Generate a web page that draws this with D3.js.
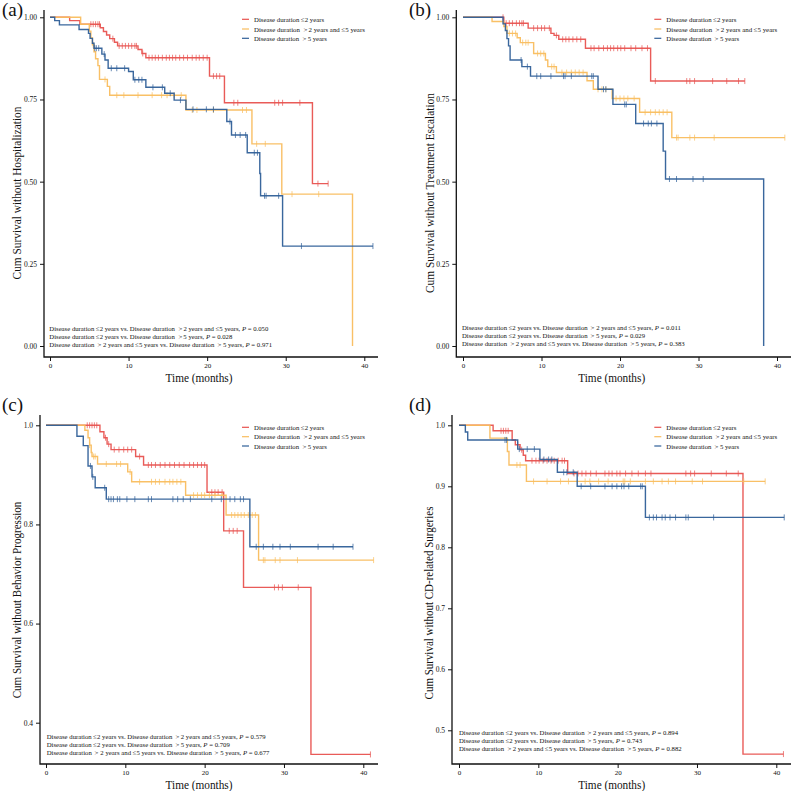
<!DOCTYPE html>
<html><head><meta charset="utf-8">
<script src="https://cdn.jsdelivr.net/npm/d3@7"></script>
<style>
body{margin:0;background:#fff}
svg{display:block}
text{font-family:"Liberation Serif","Times New Roman",serif;fill:#111}
</style>
</head><body>
<svg id="chart" width="794" height="791"></svg>
<script>
// ---------------- DATA ----------------
const seriesNames = ["Disease duration \u22642 years", "Disease duration \uFF1E2 years and \u22645 years", "Disease duration \uFF1E5 years"];
const comparisons = [
  "Disease duration \u22642 years vs. Disease duration \uFF1E2 years and \u22645 years",
  "Disease duration \u22642 years vs. Disease duration \uFF1E5 years",
  "Disease duration \uFF1E2 years and \u22645 years vs. Disease duration \uFF1E5 years"
];
const panelLetters = ["(a)", "(b)", "(c)", "(d)"];
const yTitles = ["Cum Survival without Hospitalization", "Cum Survival without Treatment Escalation",
                 "Cum Survival without Behavior Progression", "Cum Survival without CD-related Surgeries"];
const xTitle = "Time (months)";
const xTicks = [0, 10, 20, 30, 40];
const yTicksA = [0, 0.25, 0.5, 0.75, 1.0];
const yTicksB = [0, 0.25, 0.5, 0.75, 1.0];
const yTicksC = [0.4, 0.6, 0.8, 1.0];
const yTicksD = [0.5, 0.6, 0.7, 0.8, 0.9, 1.0];
const pValuesA = ["0.050", "0.028", "0.971"];
const pValuesB = ["0.011", "0.029", "0.383"];
const pValuesC = ["0.579", "0.709", "0.677"];
const pValuesD = ["0.894", "0.743", "0.882"];

// Panel (a) Hospitalization: steps [time, survival], censor times, end time
const aRedSteps = [[2.5,0.99],[3.8,0.979],[6.4,0.968],[6.8,0.957],[7.2,0.946],[7.6,0.935],[8.2,0.924],[8.6,0.913],[11.2,0.902],[11.7,0.89],[12.2,0.877],[20.3,0.821],[22.2,0.740],[33.4,0.494]];
const aRedCensor = [5.2,5.5,5.8,6.1,6.3,8.0,8.8,9.2,9.6,10.0,10.4,10.8,11.0,11.8,12.6,13.0,13.4,13.8,14.3,14.8,15.2,15.6,16.0,16.5,17.0,17.5,18.1,18.6,19.0,19.5,20.0,20.8,21.2,21.6,23.4,23.9,28.6,29.1,29.6,31.8,34.1,35.4];
const aRedEnd = 35.4;
const aOrgSteps = [[3.9,0.979],[5.0,0.958],[5.2,0.937],[5.4,0.916],[5.6,0.895],[5.8,0.874],[6.1,0.853],[6.3,0.811],[7.3,0.79],[7.6,0.763],[17.3,0.718],[25.7,0.615],[29.5,0.462],[38.5,0]];
const aOrgCensor = [5.5,7.0,8.5,9.4,11.2,13.0,14.2,14.9,15.8,16.7,18.1,18.7,20.8,24.5,25.0,26.3,27.4,30.8,34.2];
const aOrgEnd = 38.5;
const aBluSteps = [[0.6,0.99],[1.2,0.977],[3.7,0.963],[4.9,0.951],[5.1,0.936],[5.4,0.921],[5.6,0.906],[6.6,0.888],[7.0,0.870],[7.4,0.845],[10.0,0.835],[10.6,0.81],[12.2,0.787],[14.6,0.769],[15.8,0.748],[17.3,0.72],[22.5,0.683],[23.1,0.642],[25.1,0.588],[26.7,0.525],[26.8,0.457],[29.6,0.304]];
const aBluCensor = [5.7,5.9,6.2,6.9,7.8,8.5,9.5,10.8,11.3,11.7,13.1,14.3,15.3,16.6,18.2,19.9,20.8,22.9,23.6,24.2,24.9,26.0,26.4,27.3,27.5,29.1,32.0,41.1];
const aBluEnd = 41.1;

// Panel (b) Treatment escalation
const bRedSteps = [[5.2,0.982],[8.3,0.967],[11.2,0.951],[11.6,0.945],[12.2,0.933],[15.6,0.906],[23.9,0.806]];
const bRedCensor = [5.1,5.5,5.9,6.3,6.8,7.2,7.5,7.7,9.0,9.5,10.0,10.4,11.0,11.9,12.7,13.1,13.5,14.0,14.5,15.0,16.3,16.7,17.3,17.9,18.4,18.8,19.2,19.7,20.1,20.6,21.4,22.0,22.8,23.5,24.5,28.5,28.9,29.5,31.8,33.6,35.1,35.9];
const bRedEnd = 35.9;
const bOrgSteps = [[3.7,0.987],[5.2,0.972],[5.6,0.951],[6.9,0.938],[7.3,0.923],[9.0,0.89],[10.5,0.87],[10.8,0.85],[11.9,0.832],[15.8,0.807],[16.6,0.781],[19.0,0.753],[22.5,0.711],[26.6,0.634]];
const bOrgCensor = [5.9,6.3,6.7,7.6,8.0,8.3,9.5,9.9,10.3,11.3,11.6,12.6,13.2,13.8,14.3,14.8,15.3,17.2,17.7,18.2,19.5,20.0,20.5,21.0,21.8,23.2,23.9,24.5,25.0,25.5,26.0,27.2,27.4,28.9,29.5,32.0,41.0];
const bOrgEnd = 41.0;
const bBluSteps = [[5.1,0.98],[5.4,0.96],[5.6,0.935],[5.8,0.913],[6.0,0.87],[7.5,0.85],[8.6,0.821],[17.2,0.781],[19.1,0.735],[22.0,0.677],[25.5,0.593],[25.8,0.508],[38.3,0]];
const bBluCensor = [7.4,8.2,9.4,9.9,11.2,12.8,13.0,13.8,16.4,16.6,17.9,18.2,20.6,20.8,23.0,23.6,24.0,24.7,26.3,27.2,29.3,30.6];
const bBluEnd = 38.3;

// Panel (c) Behavior progression
const cRedSteps = [[6.8,0.987],[7.3,0.975],[7.7,0.962],[8.2,0.951],[11.3,0.937],[12.3,0.92],[20.3,0.865],[22.4,0.787],[24.9,0.673],[33.4,0.336]];
const cRedCensor = [5.2,5.5,5.8,6.1,6.4,7.5,7.9,8.6,9.2,9.8,10.3,10.8,11.8,12.9,13.3,13.8,14.4,15.0,15.6,16.2,16.8,17.4,18.1,18.6,19.1,19.6,20.0,20.9,21.3,21.7,22.2,23.1,23.6,24.1,28.8,29.3,29.8,31.8,40.9];
const cRedEnd = 40.9;
const cOrgSteps = [[4.9,0.99],[5.3,0.975],[5.5,0.96],[5.7,0.945],[5.8,0.937],[6.5,0.922],[10.3,0.906],[10.8,0.886],[17.6,0.859],[22.7,0.819],[26.8,0.728]];
const cOrgCensor = [5.5,6.0,6.2,7.6,8.9,9.4,10.6,11.8,13.3,13.8,14.3,15.0,15.6,16.0,16.5,17.0,18.6,19.1,19.6,20.0,20.6,21.3,22.2,23.4,23.8,24.2,24.6,25.0,25.5,26.0,26.4,27.4,27.6,28.9,29.5,31.7,41.3];
const cOrgEnd = 41.3;
const cBluSteps = [[3.9,0.978],[4.7,0.959],[5.3,0.918],[5.8,0.896],[6.2,0.874],[7.6,0.851],[25.7,0.755]];
const cBluCensor = [5.6,5.9,7.4,7.9,8.2,8.5,9.0,9.3,10.2,11.2,12.9,13.3,16.0,16.6,17.3,18.2,20.9,22.1,23.2,23.8,24.5,24.9,26.5,27.4,28.6,29.5,30.8,34.3,36.2,38.7];
const cBluEnd = 38.7;

// Panel (d) CD-related surgeries
const dRedSteps = [[4.3,0.991],[6.7,0.976],[7.1,0.968],[7.7,0.96],[8.1,0.951],[8.4,0.942],[13.7,0.921],[35.8,0.461]];
const dRedCensor = [5.3,5.6,5.9,6.2,7.4,7.9,9.2,9.7,10.1,10.6,11.1,11.6,12.0,12.5,13.0,13.3,14.5,15.0,15.5,16.0,16.6,17.3,18.4,18.9,19.3,19.9,20.3,21.0,21.8,22.6,23.5,24.2,28.6,29.2,29.7,31.8,33.7,35.2,40.9];
const dRedEnd = 40.9;
const dOrgSteps = [[3.9,0.979],[6.1,0.957],[6.3,0.935],[8.5,0.908]];
const dOrgCensor = [7.3,7.7,9.4,11.1,12.8,13.8,15.9,16.5,17.6,18.8,20.7,20.9,21.6,23.5,24.5,25.6,26.4,27.3,29.4,30.7,35.9,38.6];
const dOrgEnd = 38.6;
const dBluSteps = [[0.8,0.989],[1.1,0.976],[7.4,0.961],[10.2,0.944],[12.4,0.923],[14.9,0.9],[23.5,0.849]];
const dBluCensor = [5.8,6.0,7.6,8.6,9.5,10.7,11.3,11.7,13.2,13.6,14.4,15.4,16.6,18.4,19.3,19.9,20.5,20.8,21.4,22.9,23.1,24.0,24.5,24.9,25.6,26.0,26.6,27.3,28.6,28.9,32.1,41.0];
const dBluEnd = 41.0;

// ---------------- STYLE / LAYOUT ----------------
const colors = ["#E8524F", "#F9BD5E", "#2F5F98"];
const legW = [70.3, 111, 73];
const pW = [219, 183, 223];
const yTitleW = [173, 200, 197, 193];
const xTitleW = 67;
const layouts = [
  {lx:2, ly:16, yAxisX:44, yAxisTop:10, xAxisY:357, xAxisRight:378, xRange:[50,364.3], yRange:[346,17.3], yDomain:[0,1], fmt:".2f",
   ytx:16.7, yty:193, xtx:199, xty:381.5, legX:242, legY:[19.3,29,38.3], pX:49.3, pY:[328,336,344]},
  {lx:409, ly:16, yAxisX:456.3, yAxisTop:10, xAxisY:357, xAxisRight:791, xRange:[463,777], yRange:[346,17.3], yDomain:[0,1], fmt:".2f",
   ytx:430, yty:193, xtx:611.7, xty:381.5, legX:654.3, legY:[19.3,29,38.3], pX:462, pY:[327.3,335.3,343.3]},
  {lx:2, ly:411, yAxisX:40, yAxisTop:415, xAxisY:764, xAxisRight:378, xRange:[46,363.3], yRange:[722.7,425.3], yDomain:[0.4,1], fmt:".1f",
   ytx:16.7, yty:600, xtx:199, xty:788.5, legX:242, legY:[427.3,436.7,446], pX:46.7, pY:[735.7,743.7,751.7]},
  {lx:409, ly:411, yAxisX:452, yAxisTop:415, xAxisY:764, xAxisRight:791, xRange:[459,776.3], yRange:[730.3,425.3], yDomain:[0.5,1], fmt:".1f",
   ytx:429, yty:603, xtx:611.7, xty:788.5, legX:654.3, legY:[427.3,436.7,446], pX:459, pY:[732,740,748]}
];

const panelData = [
  {yTicks:yTicksA, p:pValuesA, series:[[aRedSteps,aRedCensor,aRedEnd],[aOrgSteps,aOrgCensor,aOrgEnd],[aBluSteps,aBluCensor,aBluEnd]]},
  {yTicks:yTicksB, p:pValuesB, series:[[bRedSteps,bRedCensor,bRedEnd],[bOrgSteps,bOrgCensor,bOrgEnd],[bBluSteps,bBluCensor,bBluEnd]]},
  {yTicks:yTicksC, p:pValuesC, series:[[cRedSteps,cRedCensor,cRedEnd],[cOrgSteps,cOrgCensor,cOrgEnd],[cBluSteps,cBluCensor,cBluEnd]]},
  {yTicks:yTicksD, p:pValuesD, series:[[dRedSteps,dRedCensor,dRedEnd],[dOrgSteps,dOrgCensor,dOrgEnd],[dBluSteps,dBluCensor,dBluEnd]]}
];

const svg = d3.select("#chart");

function survAt(steps, t){
  let s = 1;
  for (const [tt, v] of steps){ if (tt <= t) s = v; else break; }
  return s;
}
function stepPts(steps, end){
  const pts = [[0,1]]; let s = 1;
  for (const [t, v] of steps){ pts.push([t, s]); pts.push([t, v]); s = v; }
  const lastT = steps.length ? steps[steps.length-1][0] : 0;
  if (end > lastT) pts.push([end, s]);
  return pts;
}
// place a text at (x,y) and scale it horizontally to a target width
function fit(sel, x, y, w, rot){
  const n = sel.node().getComputedTextLength();
  const s = n > 0 ? w / n : 1;
  sel.attr("x", 0).attr("y", 0)
     .attr("transform", `translate(${x},${y})${rot ? " rotate(" + rot + ")" : ""} scale(${s},1)`);
}

panelData.forEach((pd, i) => {
  const L = layouts[i];
  const g = svg.append("g");
  const x = d3.scaleLinear().domain([0,40]).range(L.xRange);
  const y = d3.scaleLinear().domain(L.yDomain).range(L.yRange);

  // panel letter
  g.append("text").attr("x", L.lx).attr("y", L.ly).attr("font-size", 19).text(panelLetters[i]);

  // axes
  const xa = g.append("g").attr("transform", `translate(0,${L.xAxisY})`)
    .call(d3.axisBottom(x).tickValues(xTicks).tickSize(4).tickSizeOuter(0).tickPadding(2));
  xa.select(".domain").remove();
  xa.selectAll("text").attr("font-size", 7).attr("font-family", "Liberation Serif").attr("fill", "#111");
  xa.selectAll("line").attr("stroke", "#111");
  const ya = g.append("g").attr("transform", `translate(${L.yAxisX},0)`)
    .call(d3.axisLeft(y).tickValues(pd.yTicks).tickFormat(d3.format(L.fmt)).tickSize(4).tickSizeOuter(0).tickPadding(3));
  ya.select(".domain").remove();
  ya.selectAll("text").attr("font-size", 7.5).attr("font-family", "Liberation Serif").attr("fill", "#111");
  ya.selectAll("line").attr("stroke", "#111");
  g.append("path").attr("fill", "none").attr("stroke", "#111").attr("stroke-width", 1.3)
    .attr("d", `M${L.yAxisX},${L.yAxisTop}V${L.xAxisY}H${L.xAxisRight}`);

  // titles
  const yt = g.append("text").attr("text-anchor", "middle").attr("dominant-baseline", "central")
    .attr("font-size", 12.5).text(yTitles[i]);
  fit(yt, L.ytx, L.yty, yTitleW[i], -90);
  const xt = g.append("text").attr("text-anchor", "middle").attr("font-size", 11.5).text(xTitle);
  fit(xt, L.xtx, L.xty, xTitleW, 0);

  // curves
  const line = d3.line().x(d => x(d[0])).y(d => y(d[1]));
  pd.series.forEach((s, k) => {
    const [steps, cens, end] = s;
    g.append("path").attr("d", line(stepPts(steps, end))).attr("fill", "none")
      .attr("stroke", colors[k]).attr("stroke-width", 1.4).attr("stroke-opacity", 0.95);
    g.selectAll(null).data(cens).enter().append("line")
      .attr("x1", d => x(d)).attr("x2", d => x(d))
      .attr("y1", d => y(survAt(steps, d)) - 3).attr("y2", d => y(survAt(steps, d)) + 3)
      .attr("stroke", colors[k]).attr("stroke-width", 0.9).attr("stroke-opacity", 0.8);
  });

  // legend
  seriesNames.forEach((n, k) => {
    const ly = L.legY[k];
    g.append("line").attr("x1", L.legX).attr("x2", L.legX + 7).attr("y1", ly).attr("y2", ly)
      .attr("stroke", colors[k]).attr("stroke-width", 1.2);
    const lt = g.append("text").attr("dominant-baseline", "central").attr("font-size", 7).text(n);
    fit(lt, L.legX + 12, ly, legW[k], 0);
  });

  // p-value annotations
  comparisons.forEach((c, k) => {
    const t = g.append("text").attr("dominant-baseline", "central").attr("font-size", 7);
    t.append("tspan").text(c + ", ");
    t.append("tspan").attr("font-style", "italic").text("P");
    t.append("tspan").text(" = " + pd.p[k]);
    fit(t, L.pX, L.pY[k], pW[k], 0);
  });
});
</script>
</body></html>
